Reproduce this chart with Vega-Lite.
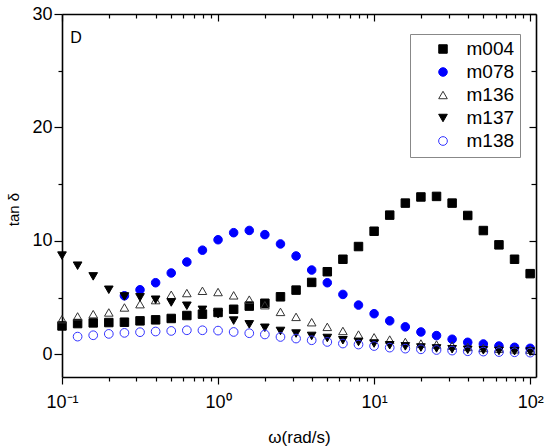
{
  "$schema": "https://vega.github.io/schema/vega-lite/v6.json",
  "width": 474,
  "height": 363,
  "autosize": "none",
  "padding": {"left": 62, "top": 14, "right": 14, "bottom": 71},
  "config": {
    "font": "Liberation Sans",
    "view": {"stroke": null},
    "axis": {
      "grid": false,
      "domainColor": "black",
      "domainWidth": 1.6,
      "tickColor": "black",
      "tickWidth": 1.2,
      "labelColor": "black",
      "titleColor": "black",
      "labelFont": "Liberation Sans",
      "titleFont": "Liberation Sans",
      "titleFontWeight": "normal"
    },
    "legend": {
      "orient": "none",
      "legendX": 348,
      "legendY": 20,
      "strokeColor": "#888888",
      "fillColor": "white",
      "padding": 5.5,
      "labelFontSize": 19,
      "labelColor": "black",
      "rowPadding": 3,
      "symbolOffset": 18,
      "labelOffset": 14,
      "symbolStrokeWidth": 1
    }
  },
  "data": {
    "values": [
      {"w": 0.1, "m004": 2.5, "m078": null, "m136": 3.1, "m137": 8.7, "m138": null},
      {"w": 0.1259, "m004": 2.71, "m078": null, "m136": 3.34, "m137": 7.81, "m138": 1.56},
      {"w": 0.1585, "m004": 2.77, "m078": null, "m136": 3.54, "m137": 6.87, "m138": 1.68},
      {"w": 0.1995, "m004": 2.8, "m078": null, "m136": 3.69, "m137": 5.69, "m138": 1.8},
      {"w": 0.2512, "m004": 2.83, "m078": 5.16, "m136": 4.13, "m137": 5.1, "m138": 1.89},
      {"w": 0.3162, "m004": 2.95, "m078": 5.69, "m136": 4.42, "m137": 5.02, "m138": 1.95},
      {"w": 0.3981, "m004": 3.04, "m078": 6.31, "m136": 4.78, "m137": 4.81, "m138": 2.01},
      {"w": 0.5012, "m004": 3.16, "m078": 7.17, "m136": 5.25, "m137": 4.57, "m138": 2.06},
      {"w": 0.631, "m004": 3.42, "m078": 8.14, "m136": 5.4, "m137": 4.28, "m138": 2.12},
      {"w": 0.7943, "m004": 3.54, "m078": 9.18, "m136": 5.6, "m137": 3.92, "m138": 2.12},
      {"w": 1, "m004": 3.69, "m078": 10.1, "m136": 5.49, "m137": 3.54, "m138": 2.09},
      {"w": 1.259, "m004": 3.97, "m078": 10.72, "m136": 5.2, "m137": 2.97, "m138": 1.97},
      {"w": 1.585, "m004": 4.25, "m078": 10.92, "m136": 4.82, "m137": 2.64, "m138": 1.86},
      {"w": 1.995, "m004": 4.5, "m078": 10.55, "m136": 4.33, "m137": 2.34, "m138": 1.75},
      {"w": 2.512, "m004": 5.07, "m078": 9.73, "m136": 3.74, "m137": 2.06, "m138": 1.53},
      {"w": 3.162, "m004": 5.66, "m078": 8.67, "m136": 3.3, "m137": 1.83, "m138": 1.39},
      {"w": 3.981, "m004": 6.34, "m078": 7.43, "m136": 2.83, "m137": 1.62, "m138": 1.24},
      {"w": 5.012, "m004": 7.28, "m078": 6.31, "m136": 2.42, "m137": 1.44, "m138": 1.09},
      {"w": 6.31, "m004": 8.38, "m078": 5.28, "m136": 2.06, "m137": 1.24, "m138": 0.95},
      {"w": 7.943, "m004": 9.5, "m078": 4.34, "m136": 1.74, "m137": 1.09, "m138": 0.86},
      {"w": 10, "m004": 10.85, "m078": 3.58, "m136": 1.5, "m137": 0.95, "m138": 0.73},
      {"w": 12.59, "m004": 12.27, "m078": 2.95, "m136": 1.3, "m137": 0.8, "m138": 0.59},
      {"w": 15.85, "m004": 13.33, "m078": 2.42, "m136": 1.09, "m137": 0.7, "m138": 0.5},
      {"w": 19.95, "m004": 13.87, "m078": 1.97, "m136": 0.95, "m137": 0.6, "m138": 0.44},
      {"w": 25.12, "m004": 13.92, "m078": 1.65, "m136": 0.86, "m137": 0.52, "m138": 0.38},
      {"w": 31.62, "m004": 13.33, "m078": 1.33, "m136": 0.77, "m137": 0.45, "m138": 0.33},
      {"w": 39.81, "m004": 12.24, "m078": 1.06, "m136": 0.65, "m137": 0.4, "m138": 0.27},
      {"w": 50.12, "m004": 10.91, "m078": 0.91, "m136": 0.56, "m137": 0.35, "m138": 0.24},
      {"w": 63.1, "m004": 9.65, "m078": 0.73, "m136": 0.5, "m137": 0.3, "m138": 0.2},
      {"w": 79.43, "m004": 8.38, "m078": 0.62, "m136": 0.44, "m137": 0.27, "m138": 0.18},
      {"w": 100, "m004": 7.11, "m078": 0.53, "m136": 0.42, "m137": 0.24, "m138": 0.15}
    ]
  },
  "transform": [
    {"fold": ["m004", "m078", "m136", "m137", "m138"], "as": ["series", "tan"]},
    {"filter": "isValid(datum.tan)"}
  ],
  "layer": [
    {
      "mark": {"type": "point", "filled": true, "opacity": 1, "strokeWidth": 1},
      "encoding": {
        "x": {
          "field": "w",
          "type": "quantitative",
          "scale": {"type": "log", "domain": [0.1, 109], "nice": false},
          "axis": {
            "orient": "bottom",
            "title": "ω(rad/s)",
            "values": [0.1, 0.2, 0.3, 0.4, 0.5, 0.6, 0.7, 0.8, 0.9, 1, 2, 3, 4, 5, 6, 7, 8, 9, 10, 20, 30, 40, 50, 60, 70, 80, 90, 100],
            "labelExpr": "datum.value == 0.1 ? '10⁻¹' : datum.value == 1 ? '10⁰' : datum.value == 10 ? '10¹' : datum.value == 100 ? '10²' : ''",
            "tickSize": {"condition": {"test": "datum.value == 0.1 || datum.value == 1 || datum.value == 10 || datum.value == 100", "value": 7}, "value": 4},
            "labelFontSize": 18,
            "labelPadding": 9,
            "labelFlush": false,
            "labelOverlap": false,
            "labelBound": false,
            "titleFontSize": 17,
            "titleBaseline": "alphabetic",
            "titleY": 65
          }
        },
        "y": {
          "field": "tan",
          "type": "quantitative",
          "scale": {"domain": [-2, 30], "nice": false, "zero": false},
          "axis": {
            "orient": "left",
            "title": "tan δ",
            "values": [0, 5, 10, 15, 20, 25, 30],
            "labelExpr": "datum.value % 10 == 0 ? datum.label : ''",
            "tickSize": {"condition": {"test": "datum.value % 10 == 0", "value": 8}, "value": 4},
            "labelFontSize": 18,
            "labelPadding": 2,
            "titleFontSize": 15,
            "titleAngle": -90,
            "titleBaseline": "alphabetic",
            "titleX": -44,
            "titleY": 195
          }
        },
        "shape": {
          "field": "series",
          "type": "nominal",
          "scale": {"domain": ["m004", "m078", "m136", "m137", "m138"], "range": ["square", "circle", "triangle-up", "triangle-down", "circle"]},
          "legend": {"title": null}
        },
        "fill": {
          "field": "series",
          "type": "nominal",
          "scale": {"domain": ["m004", "m078", "m136", "m137", "m138"], "range": ["black", "#0000ff", "transparent", "black", "transparent"]},
          "legend": {"title": null}
        },
        "stroke": {
          "field": "series",
          "type": "nominal",
          "scale": {"domain": ["m004", "m078", "m136", "m137", "m138"], "range": ["black", "#0000ff", "#333333", "black", "#3333ff"]},
          "legend": {"title": null}
        },
        "size": {
          "field": "series",
          "type": "nominal",
          "scale": {"domain": ["m004", "m078", "m136", "m137", "m138"], "range": [72, 76, 180, 170, 72]},
          "legend": {"title": null}
        },
        "order": {"field": "series", "type": "nominal"}
      }
    },
    {
      "mark": {"type": "point", "opacity": 0},
      "encoding": {
        "x": {
          "field": "w",
          "type": "quantitative",
          "axis": {
            "orient": "top",
            "title": null,
            "labels": false,
            "values": [0.1, 0.2, 0.3, 0.4, 0.5, 0.6, 0.7, 0.8, 0.9, 1, 2, 3, 4, 5, 6, 7, 8, 9, 10, 20, 30, 40, 50, 60, 70, 80, 90, 100],
            "tickSize": {"condition": {"test": "datum.value == 0.1 || datum.value == 1 || datum.value == 10 || datum.value == 100", "value": -7}, "value": -4}
          }
        },
        "y": {
          "field": "tan",
          "type": "quantitative",
          "axis": {
            "orient": "right",
            "title": null,
            "labels": false,
            "values": [0, 5, 10, 15, 20, 25, 30],
            "tickSize": {"condition": {"test": "datum.value % 10 == 0", "value": -7}, "value": -5}
          }
        }
      }
    },
    {
      "data": {"values": [{"label": "D"}]},
      "mark": {"type": "text", "align": "left", "baseline": "middle", "fontSize": 16, "color": "black"},
      "encoding": {
        "x": {"datum": 0.113, "type": "quantitative", "axis": null},
        "y": {"datum": 27.88, "type": "quantitative", "axis": null},
        "text": {"field": "label"}
      }
    }
  ],
  "resolve": {"axis": {"x": "independent", "y": "independent"}}
}
